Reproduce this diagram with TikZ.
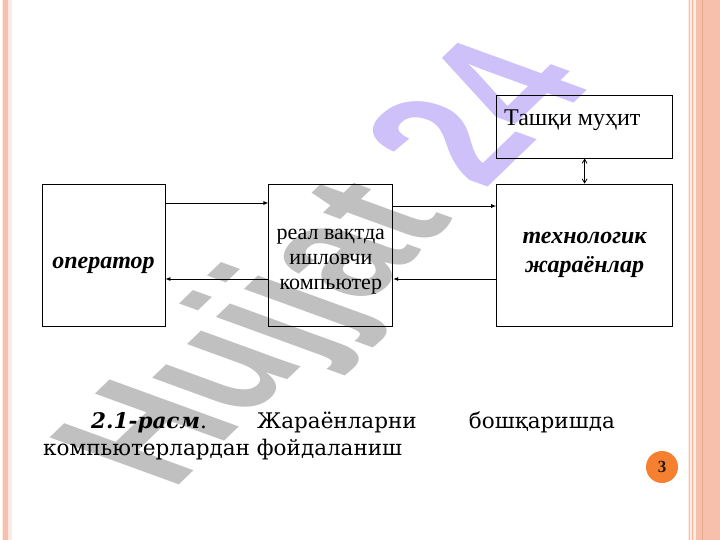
\documentclass[tikz,border=0pt]{standalone}
\usepackage{fontspec}
\setmainfont{Liberation Serif}
\newfontfamily\capfont{DejaVu Serif}
\newfontfamily\wmfont{Liberation Sans}
\usetikzlibrary{arrows.meta,positioning}
\definecolor{stripe}{RGB}{246,192,172}
\definecolor{stripepale}{RGB}{253,235,228}
\definecolor{wmgray}{RGB}{192,192,192}
\definecolor{wmlilac}{RGB}{206,192,248}
\definecolor{pageorange}{RGB}{245,128,48}

\begin{document}
\begin{tikzpicture}[x=1pt,y=-1pt,
	blok/.style={draw, line width=0.8pt, inner sep=0pt, minimum height=142pt},
	strelka/.style={line width=0.8pt, -{Latex[length=5pt,width=4pt]}},
	metn/.style={font=\fontsize{22}{25}\selectfont, align=center, inner sep=0pt},
	qalin/.style={font=\fontsize{24}{29}\selectfont\bfseries\itshape, align=center, inner sep=0pt},
	izoh/.style={font=\capfont\fontsize{21.5}{25}\selectfont, inner sep=0pt, anchor=base west}]
	\useasboundingbox (0,0) rectangle (720,540);
	% slide stripes
	\fill[stripepale] (2,0) rectangle (12,540);
	\fill[stripe] (3,0) rectangle (8,540);
	\fill[stripepale] (688,0) rectangle (696,540);
	\draw[stripe, line width=1pt] (689,0) -- (689,540);
	\draw[stripe!80!orange, line width=1pt] (692.5,0) -- (692.5,540);
	\fill[stripe] (696,0) rectangle (720,540);
	\draw[stripe!70!brown, line width=0.8pt] (702,0) -- (702,540);
	
	% watermark
	\begin{scope}[cm={1.021,0.986,-1.88,0.684,(172,492)}]
		\node[anchor=base west, inner sep=0pt, transform shape,
			font=\wmfont\fontsize{100}{100}\selectfont\bfseries] (wm)
			at (0,0) {\textcolor{wmgray}{Hujjat} \textcolor{wmlilac}{24}};
	\end{scope}
	
	% boxes
	\node[blok, minimum width=123pt] (op) at (103.5,255) {};
	\node[blok, minimum width=124pt, right=103pt of op] (pc) {};
	\node[blok, minimum width=176pt, right=103pt of pc] (tj) {};
	\node[blok, minimum width=176pt, minimum height=63pt, above=25pt of tj] (tm) {};
	
	\node[qalin, anchor=base] (opt) at ([yshift=-13pt]op.center) {оператор};
	\node[metn] (pct) at ([yshift=-7pt]pc.center) {реал вақтда\\ишловчи\\компьютер};
	\node[qalin] (tjt) at (tj.center) {технологик\\жараёнлар};
	\node[metn, font=\fontsize{24}{28}\selectfont, anchor=base west] (tmt) at (504,126) {Ташқи муҳит};
	
	% connections
	\draw[strelka] ([yshift=52pt]op.east) -- ([yshift=52pt]pc.west);
	\draw[strelka] ([yshift=49pt]pc.east) -- ([yshift=49pt]tj.west);
	\draw[strelka] ([yshift=-24pt]tj.west) -- ([yshift=-24pt]pc.east);
	\draw[strelka] ([yshift=-24pt]pc.west) -- ([yshift=-24pt]op.east);
	\draw[line width=0.8pt, {Straight Barb[length=4pt,width=5pt]}-{Straight Barb[length=4pt,width=5pt]}] (tm.south) -- (tj.north);
	
	% caption
	\node[izoh] (c1) at (91,428) {\textbf{\textit{2.1-расм}}.};
	\node[izoh] (c2) at (257,428) {Жараёнларни};
	\node[izoh, anchor=base east] (c3) at (615,428) {бошқаришда};
	\node[izoh] (c4) at (43,455) {компьютерлардан фойдаланиш};
	
	% page number
	\node[circle, fill=pageorange, minimum size=32pt, inner sep=0pt,
		font=\bfseries\fontsize{17}{17}\selectfont, text={black!80!brown}] (nr) at (662,467) {3};
\end{tikzpicture}
\end{document}
